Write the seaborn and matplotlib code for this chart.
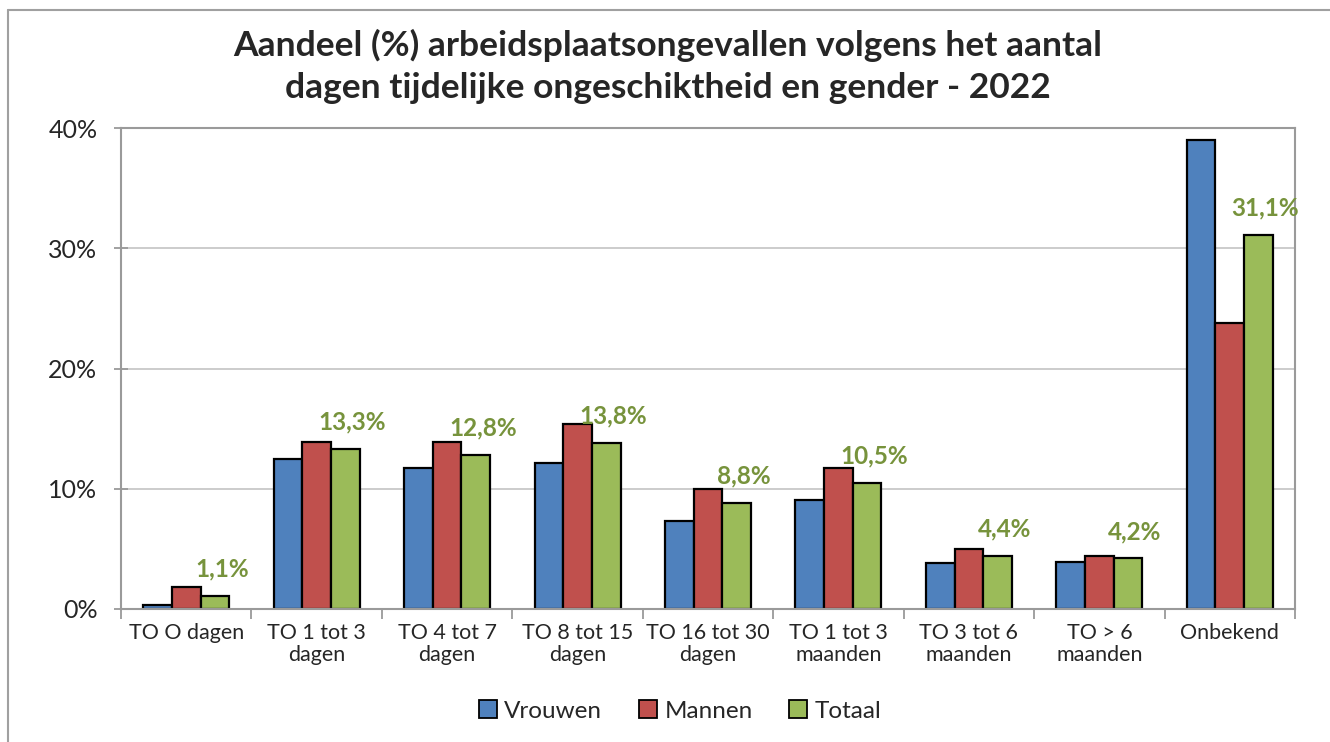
import pandas as pd
import matplotlib
matplotlib.use("Agg")
import matplotlib.pyplot as plt
import seaborn as sns
from matplotlib.lines import Line2D
from matplotlib.ticker import FuncFormatter, FixedLocator

# Data
categories = ["TO O dagen", "TO 1 tot 3\ndagen", "TO 4 tot 7\ndagen", "TO 8 tot 15\ndagen",
              "TO 16 tot 30\ndagen", "TO 1 tot 3\nmaanden", "TO 3 tot 6\nmaanden",
              "TO > 6\nmaanden", "Onbekend"]
vrouwen = [0.3, 12.5, 11.7, 12.1, 7.3, 9.1, 3.8, 3.9, 39.0]
mannen = [1.8, 13.9, 13.9, 15.4, 10.0, 11.7, 5.0, 4.4, 23.8]
totaal = [1.1, 13.3, 12.8, 13.8, 8.8, 10.5, 4.4, 4.2, 31.1]
series = ["Vrouwen", "Mannen", "Totaal"]
colors = ["#4F81BD", "#C0504D", "#9BBB59"]
label_color = "#77933C"

df = pd.DataFrame({
    "categorie": categories * 3,
    "gender": [s for s in series for _ in categories],
    "aandeel": vrouwen + mannen + totaal,
})

sns.set_style("white")
plt.rcParams["font.family"] = ["Lato", "DejaVu Sans"]

fig = plt.figure(figsize=(13.3, 7.42), dpi=100)
ax = fig.add_axes([121 / 1330, 1 - 609 / 742, (1295 - 121) / 1330, (609 - 128) / 742])

sns.barplot(data=df, x="categorie", y="aandeel", hue="gender", order=categories,
            hue_order=series, palette=colors, width=0.66, edgecolor="black",
            linewidth=1.6, saturation=1, ax=ax, legend=False)

# axes styling
ax.set_ylim(0, 40)
ax.set_xlim(-0.5, len(categories) - 0.5)
ax.set_yticks([0, 10, 20, 30, 40])
ax.yaxis.set_major_formatter(FuncFormatter(lambda v, p: f"{v:.0f}%"))
ax.grid(axis="y", color="#C8C8C8", linewidth=1.3)
ax.set_axisbelow(True)
for side in ["left", "right", "top", "bottom"]:
    ax.spines[side].set_visible(True)
    ax.spines[side].set_color("#9A9A9A")
    ax.spines[side].set_linewidth(1.5)
ax.tick_params(axis="y", direction="inout", length=10, width=1.3, color="#9A9A9A",
               labelsize=18, pad=12, left=True)
ax.tick_params(axis="x", length=0, labelsize=15.5, pad=10)
ax.xaxis.set_minor_locator(FixedLocator([i - 0.5 for i in range(len(categories) + 1)]))
ax.tick_params(axis="x", which="minor", direction="out", length=7, width=1.3,
               color="#9A9A9A", bottom=True)
ax.set_xlabel("")
ax.set_ylabel("")
for lbl in ax.get_xticklabels():
    lbl.set_linespacing(1.15)

# value labels on Totaal bars
for bar, v in zip(ax.containers[2], totaal):
    x = bar.get_x() + bar.get_width() / 2
    ax.annotate(f"{v:.1f}".replace(".", ",") + "%", (x, bar.get_height()),
                xytext=(7, 27), textcoords="offset pixels", ha="center", va="center",
                fontsize=17.5, fontweight="bold", color=label_color)

# title
fig.text(0.502, 1 - 66.5 / 742,
         "Aandeel (%) arbeidsplaatsongevallen volgens het aantal\n"
         "dagen tijdelijke ongeschiktheid en gender - 2022",
         ha="center", va="center", fontsize=25.5, fontweight="bold", linespacing=1.38)

# legend
handles = [plt.Rectangle((0, 0), 1, 1, facecolor=c, edgecolor="black", linewidth=1.3)
           for c in colors]
fig.legend(handles, series, loc="center", bbox_to_anchor=(680 / 1330, 1 - 711 / 742),
           ncol=3, frameon=False, fontsize=17.5, handlelength=0.75, handleheight=0.75,
           handletextpad=0.3, columnspacing=1.5)

# chart border
fig.add_artist(Line2D([8 / 1330, 8 / 1330], [0, 1 - 10 / 742], transform=fig.transFigure,
                      color="#A0A0A0", linewidth=1.5))
fig.add_artist(Line2D([8 / 1330, 1], [1 - 10 / 742, 1 - 10 / 742], transform=fig.transFigure,
                      color="#A0A0A0", linewidth=1.5))

fig.savefig("out.png", dpi=100)
